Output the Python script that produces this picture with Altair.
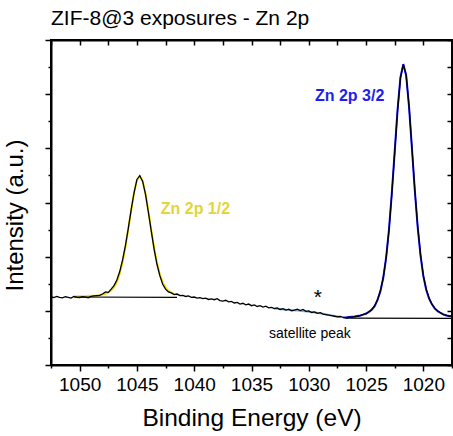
import altair as alt
import pandas as pd

FONT = "Liberation Sans"
TITLE = "ZIF-8@3 exposures - Zn 2p"
X_TITLE = "Binding Energy (eV)"
Y_TITLE = "Intensity (a.u.)"

# ---- measured spectrum (black) ----
energy_a = [1052.5, 1052.25, 1052.0, 1051.75, 1051.5, 1051.25, 1051.0, 1050.75, 1050.5,
            1050.25, 1050.0, 1049.75, 1049.5, 1049.25, 1049.0, 1048.75, 1048.5]
counts_a = [2.52, 2.49, 2.53, 2.50, 2.48, 2.52, 2.50, 2.47, 2.53,
            2.50, 2.49, 2.52, 2.51, 2.48, 2.53, 2.55, 2.56]

energy_b = [1048.25, 1048.0, 1047.75, 1047.5, 1047.25, 1047.0, 1046.75, 1046.5, 1046.25, 1046.0,
            1045.75, 1045.5, 1045.25, 1045.0, 1044.75, 1044.5, 1044.25, 1044.0, 1043.75, 1043.5,
            1043.25, 1043.0, 1042.75, 1042.5, 1042.25, 1042.0, 1041.75, 1041.5, 1041.25, 1041.0]
counts_b = [2.57, 2.62, 2.70, 2.68, 2.80, 2.93, 3.14, 3.45, 3.88, 4.42,
            5.05, 5.74, 6.36, 6.85, 6.99, 6.78, 6.30, 5.64, 4.95, 4.28,
            3.72, 3.30, 2.98, 2.80, 2.70, 2.66, 2.60, 2.62, 2.56, 2.57]

energy_c = [1040.75, 1040.5, 1040.25, 1040.0, 1039.75, 1039.5, 1039.25, 1039.0, 1038.75, 1038.5,
            1038.25, 1038.0, 1037.75, 1037.5, 1037.25, 1037.0, 1036.75, 1036.5, 1036.25, 1036.0,
            1035.75, 1035.5, 1035.25, 1035.0, 1034.75, 1034.5, 1034.25, 1034.0, 1033.75, 1033.5,
            1033.25, 1033.0, 1032.75, 1032.5, 1032.25, 1032.0, 1031.75, 1031.5, 1031.25, 1031.0,
            1030.75, 1030.5, 1030.25, 1030.0, 1029.75, 1029.5, 1029.25, 1029.0, 1028.75, 1028.5,
            1028.25, 1028.0, 1027.75, 1027.5, 1027.25]
counts_c = [2.53, 2.55, 2.50, 2.51, 2.47, 2.49, 2.45, 2.47, 2.42, 2.44,
            2.41, 2.45, 2.38, 2.36, 2.39, 2.33, 2.35, 2.29, 2.31, 2.25,
            2.28, 2.22, 2.25, 2.19, 2.22, 2.16, 2.19, 2.14, 2.17, 2.11,
            2.13, 2.08, 2.11, 2.05, 2.08, 2.03, 2.06, 2.00, 2.03, 2.06,
            2.01, 2.05, 1.98, 2.00, 1.94, 1.96, 1.91, 1.93, 1.88, 1.86,
            1.84, 1.82, 1.80, 1.78, 1.79]

energy_d = [1027.0, 1026.75, 1026.5, 1026.25, 1026.0, 1025.75, 1025.5, 1025.25, 1025.0, 1024.75,
            1024.5, 1024.25, 1024.0, 1023.75, 1023.5, 1023.25, 1023.0, 1022.75, 1022.5, 1022.25,
            1022.0, 1021.75, 1021.5, 1021.25, 1021.0, 1020.75, 1020.5, 1020.25, 1020.0, 1019.75,
            1019.5, 1019.25, 1019.0, 1018.75, 1018.5, 1018.25, 1018.0, 1017.75, 1017.5]
counts_d = [1.76, 1.74, 1.77, 1.76, 1.79, 1.80, 1.82, 1.87, 1.89, 1.97,
            2.05, 2.19, 2.41, 2.74, 3.22, 3.95, 4.98, 6.33, 7.86, 9.40,
            10.60, 11.10, 10.70, 9.56, 8.04, 6.49, 5.14, 4.08, 3.30, 2.80,
            2.47, 2.25, 2.10, 1.99, 1.93, 1.86, 1.84, 1.80, 1.81]

# ---- Zn 2p 1/2 fit (yellow) ----
fit12_energy = [1050.5, 1050.0, 1049.5, 1049.0, 1048.5, 1048.25, 1048.0, 1047.75, 1047.5, 1047.25,
                1047.0, 1046.75, 1046.5, 1046.25, 1046.0, 1045.75, 1045.5, 1045.25, 1045.0, 1044.75,
                1044.5, 1044.25, 1044.0, 1043.75, 1043.5, 1043.25, 1043.0, 1042.75, 1042.5, 1042.25,
                1042.0, 1041.75, 1041.5, 1041.25]
fit12_counts = [2.53, 2.535, 2.54, 2.56, 2.57, 2.585, 2.60, 2.63, 2.67, 2.75,
                2.87, 3.07, 3.38, 3.81, 4.37, 5.03, 5.73, 6.37, 6.82, 6.98,
                6.80, 6.32, 5.67, 4.98, 4.32, 3.77, 3.35, 3.05, 2.86, 2.74,
                2.67, 2.625, 2.60, 2.58]

# ---- Zn 2p 3/2 fit (blue) ----
fit32_energy = energy_d
fit32_counts = [1.75, 1.755, 1.77, 1.78, 1.79, 1.81, 1.83, 1.86, 1.90, 1.96,
                2.04, 2.17, 2.40, 2.72, 3.22, 3.96, 5.00, 6.36, 7.89, 9.43,
                10.62, 11.11, 10.69, 9.54, 8.02, 6.47, 5.12, 4.06, 3.28, 2.78,
                2.45, 2.24, 2.08, 1.99, 1.92, 1.87, 1.83, 1.81, 1.79]

# ---- satellite (light blue) ----
sat_energy = [1033.0, 1032.0, 1031.0, 1030.0, 1029.0, 1028.0, 1027.3]
sat_counts = [2.09, 2.04, 2.01, 1.97, 1.91, 1.83, 1.78]

# ---- background lines ----
bg_energy = [1050.5, 1041.5, 1026.75, 1017.5]
bg_counts = [2.51, 2.50, 1.73, 1.72]
bg_group = ["p12", "p12", "p32", "p32"]

# ---- tick values ----
x_major = [1050, 1045, 1040, 1035, 1030, 1025, 1020]
x_minor = [1052.5, 1047.5, 1042.5, 1037.5, 1032.5, 1027.5, 1022.5, 1017.5]
x_all = sorted(x_major + x_minor)
y_major = [0, 2, 4, 6, 8, 10, 12]
y_minor = [1, 3, 5, 7, 9, 11]
y_all = sorted(y_major + y_minor)

W, H = 401, 325

spec_df = pd.DataFrame({"e": energy_a + energy_b + energy_c + energy_d,
                        "i": counts_a + counts_b + counts_c + counts_d})
fit12_df = pd.DataFrame({"e": fit12_energy, "i": fit12_counts})
fit32_df = pd.DataFrame({"e": fit32_energy, "i": fit32_counts})
sat_df = pd.DataFrame({"e": sat_energy, "i": sat_counts})
bg_df = pd.DataFrame({"e": bg_energy, "i": bg_counts, "g": bg_group})

xscale = alt.Scale(domain=[1017.5, 1052.5], reverse=True, nice=False, zero=False)
yscale = alt.Scale(domain=[0, 12], nice=False, zero=False)


def ax(**kw):
    base = dict(grid=False, domain=False, labels=False, title=None,
                tickColor="black", tickWidth=1.5, domainColor="black", domainWidth=2)
    base.update(kw)
    return alt.Axis(**base)


yellow = alt.Chart(fit12_df).mark_line(color="#F2DE00", strokeWidth=2).encode(
    x=alt.X("e:Q", scale=xscale, axis=ax(values=x_minor, tickSize=3, orient="bottom")),
    y=alt.Y("i:Q", scale=yscale, axis=ax(values=y_minor, tickSize=3, orient="left")),
)

blue = alt.Chart(fit32_df).mark_line(color="#1414FF", strokeWidth=2).encode(
    x=alt.X("e:Q", scale=xscale,
            axis=ax(values=x_all, tickSize=5, orient="bottom", offset=-H, domain=True)),
    y=alt.Y("i:Q", scale=yscale,
            axis=ax(values=y_all, tickSize=5, orient="left", offset=-W, domain=True)),
)

sat = alt.Chart(sat_df).mark_line(color="#86AEDC", strokeWidth=2).encode(
    x=alt.X("e:Q", scale=xscale, axis=None),
    y=alt.Y("i:Q", scale=yscale, axis=None),
)

bg = alt.Chart(bg_df).mark_line(color="black", strokeWidth=1.2).encode(
    x=alt.X("e:Q", scale=xscale, axis=None),
    y=alt.Y("i:Q", scale=yscale, axis=None),
    detail="g:N",
)

spectrum = alt.Chart(spec_df).mark_line(color="black", strokeWidth=1.3).encode(
    x=alt.X("e:Q", scale=xscale,
            axis=ax(values=x_major, tickSize=6, orient="bottom", labels=True, domain=True,
                    format="d", labelFont=FONT, labelFontSize=19, labelColor="black",
                    labelPadding=4,
                    title=X_TITLE, titleFont=FONT, titleFontSize=24.5,
                    titleFontWeight="normal", titleColor="black", titlePadding=12)),
    y=alt.Y("i:Q", scale=yscale,
            axis=ax(values=y_major, tickSize=6, orient="left", domain=True,
                    title=Y_TITLE, titleFont=FONT, titleFontSize=24,
                    titleFontWeight="normal", titleColor="black", titlePadding=17,
                    titleY=175)),
)


def label(e, i, text, **kw):
    df = pd.DataFrame({"e": [e], "i": [i], "t": [text]})
    return alt.Chart(df).mark_text(font=FONT, **kw).encode(
        x=alt.X("e:Q", scale=xscale, axis=None),
        y=alt.Y("i:Q", scale=yscale, axis=None),
        text="t:N",
    )


t12 = label(1042.92, 5.76, "Zn 2p 1/2", fontSize=16, fontWeight="bold",
            color="#E3D43A", align="left", baseline="middle")
t32 = label(1029.46, 9.93, "Zn 2p 3/2", fontSize=16, fontWeight="bold",
            color="#1E1EF0", align="left", baseline="middle")
star = label(1029.2, 2.66, "*", fontSize=21, color="black", align="center",
             baseline="alphabetic", dy=11)
satt = label(1029.9, 1.14, "satellite peak", fontSize=14, color="black",
             align="center", baseline="middle")

chart = alt.layer(yellow, blue, sat, bg, spectrum, t12, t32, star, satt).resolve_axis(
    x="independent", y="independent"
).properties(
    width=W, height=H,
    title=alt.TitleParams(TITLE, anchor="start", frame="group", fontSize=21, font=FONT,
                          fontWeight="normal", color="black", offset=10),
    autosize=alt.AutoSizeParams(type="none"),
    padding={"left": 51, "top": 40, "right": 1, "bottom": 71},
    background="white",
).configure_view(stroke="black", strokeWidth=2)

chart.save("out.html", embed_options={"renderer": "svg", "actions": False})
